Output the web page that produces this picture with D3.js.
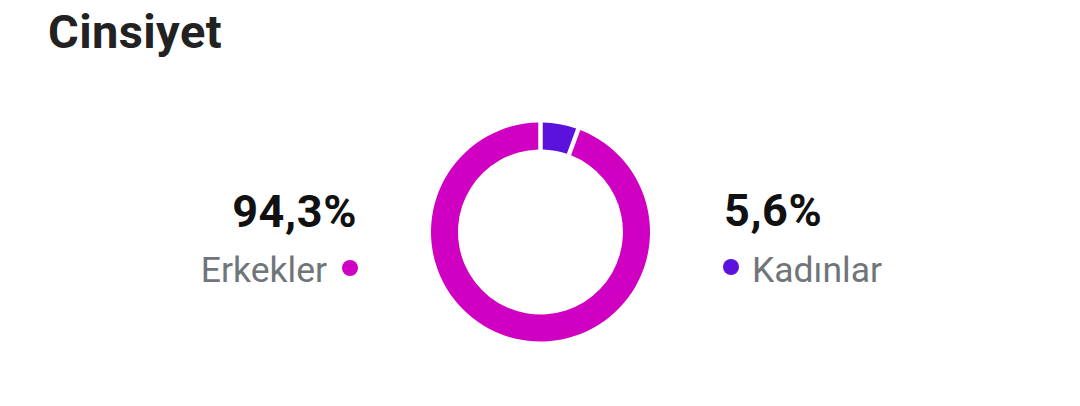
<!DOCTYPE html>
<html><head><meta charset="utf-8">
<script src="https://cdn.jsdelivr.net/npm/d3@7"></script>
<style>html,body{margin:0;padding:0;background:#fff;}svg{display:block;}</style>
</head><body>
<svg id="chart" width="1080" height="406"></svg>
<script>
const title = "Cinsiyet";
const categories = ["Kadınlar", "Erkekler"];
const values = [5.6, 94.3];
const valueLabels = ["5,6%", "94,3%"];
const colors = ["#5a12dc", "#d000c2"];

const svg = d3.select("#chart");
const cx = 540.5, cy = 232, outerR = 109.5, innerR = 82.5;

svg.append("text").attr("x", 48).attr("y", 48)
  .attr("font-family", "Roboto").attr("font-weight", 700).attr("font-size", 47)
  .attr("letter-spacing", 0.4)
  .attr("fill", "#222").text(title);

const pie = d3.pie().sort(null).value(d => d);
const arcs = pie(values);
const arc = d3.arc().innerRadius(innerR).outerRadius(outerR).padAngle(0.045).padRadius(100);

const g = svg.append("g").attr("transform", `translate(${cx},${cy})`);
g.selectAll("path").data(arcs).join("path")
  .attr("d", arc).attr("fill", (d, i) => colors[i]);

const numStyle = sel => sel.attr("font-family", "Roboto").attr("font-weight", 700)
  .attr("font-size", 45).attr("letter-spacing", 0.6).attr("fill", "#111");
const labStyle = sel => sel.attr("font-family", "Roboto").attr("font-size", 35.5)
  .attr("fill", "#70757a");

// Left legend (Erkekler)
const left = svg.append("g");
left.append("text").attr("x", 357).attr("y", 227).attr("text-anchor", "end")
  .call(numStyle).text(valueLabels[1]);
left.append("text").attr("x", 327).attr("y", 282).attr("text-anchor", "end")
  .call(labStyle).text(categories[1]);
left.append("circle").attr("cx", 350).attr("cy", 268).attr("r", 8).attr("fill", colors[1]);

// Right legend (Kadınlar)
const right = svg.append("g");
right.append("text").attr("x", 724).attr("y", 226)
  .call(numStyle).text(valueLabels[0]);
right.append("circle").attr("cx", 731).attr("cy", 267).attr("r", 8).attr("fill", colors[0]);
right.append("text").attr("x", 752).attr("y", 282)
  .call(labStyle).text(categories[0]);
</script>
</body></html>
